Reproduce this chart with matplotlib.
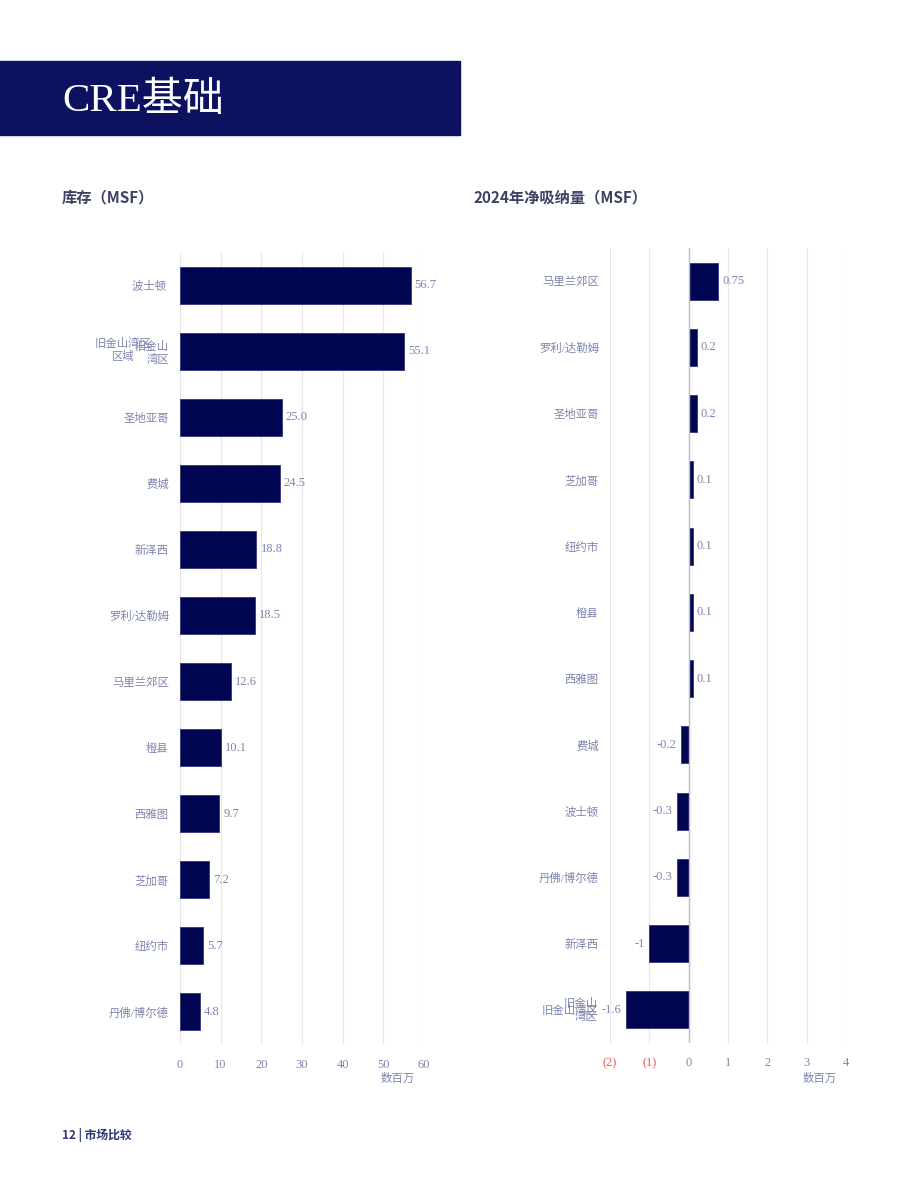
import matplotlib
matplotlib.use("Agg")
import matplotlib.pyplot as plt
from matplotlib.patches import Rectangle

# ---------------- data ----------------
inv_categories = ["波士顿 ", "旧金山\n湾区", "圣地亚哥", "费城", "新泽西", "罗利/达勒姆",
                  "马里兰郊区", "橙县", "西雅图", "芝加哥", "纽约市", "丹佛/博尔德"]
inv_values = [56.7, 55.1, 25.0, 24.5, 18.8, 18.5, 12.6, 10.1, 9.7, 7.2, 5.7, 4.8]
inv_ticks = [0, 10, 20, 30, 40, 50, 60]
inv_ticklabels = ["0", "10", "20", "30", "40", "50", "60"]
inv_ghost_label = "旧金山湾区\n区域"   # overlapping duplicate label in the source

abs_categories = ["马里兰郊区", "罗利/达勒姆", "圣地亚哥", "芝加哥", "纽约市", "橙县",
                  "西雅图", "费城", "波士顿", "丹佛/博尔德", "新泽西", "旧金山湾区"]
abs_values = [0.75, 0.2, 0.2, 0.1, 0.1, 0.1, 0.1, -0.2, -0.3, -0.3, -1.0, -1.6]
abs_ticks = [-2, -1, 0, 1, 2, 3, 4]
abs_ticklabels = ["(2)", "(1)", "0", "1", "2", "3", "4"]
abs_ghost_label = "旧金山\n湾区"     # overlapping duplicate label in the source

# ---------------- style ----------------
NAVY_BAND = "#0c1260"
BAR = "#010653"
BAR_EDGE = "#3b4080"
LABEL = "#7d84ad"
RED = "#ff4d4d"
GRID = "#e8e8ec"
SUB = "#3d4262"
SERIF = ["Liberation Serif", "Noto Sans CJK SC", "DejaVu Sans"]
SANS = ["Noto Sans CJK SC", "DejaVu Sans"]
CAT_SIZE = 8.2

W, H = 920, 1191
fig = plt.figure(figsize=(W / 100, H / 100), dpi=100)
fig.patch.set_facecolor("white")

def fx(px):
    return px / W

def fy(py):
    return 1 - py / H

# header band
fig.patches.append(Rectangle((0, fy(135)), fx(460), (135 - 61) / H,
                             transform=fig.transFigure, color=NAVY_BAND, zorder=0))
fig.text(fx(62), fy(101), "CRE基础", color="white", fontsize=29.5,
         family=SERIF, va="center", ha="left")

# subtitles
fig.text(fx(62), fy(197), "库存（MSF）", color=SUB, fontsize=11, fontweight="bold",
         family=SANS, va="center", ha="left")
fig.text(fx(474), fy(197), "2024年净吸纳量（MSF）", color=SUB, fontsize=11,
         fontweight="bold", family=SANS, va="center", ha="left")

# footer
fig.text(fx(62), fy(1135), "12 | 市场比较", color="#2f3576", fontsize=8.5,
         fontweight="bold", family=SANS, va="center", ha="left")


def style_axes(ax):
    for s in ax.spines.values():
        s.set_visible(False)
    ax.tick_params(axis="both", length=0, colors=LABEL)
    ax.tick_params(axis="x", labelsize=9, pad=10)
    ax.tick_params(axis="y", labelsize=CAT_SIZE, pad=8)
    ax.grid(axis="x", color=GRID, linewidth=0.9)
    ax.set_axisbelow(True)
    for lab in ax.get_xticklabels() + ax.get_yticklabels():
        lab.set_family(SERIF)


# ---------------- left chart: inventory ----------------
ax1 = fig.add_axes([fx(180), fy(1045), fx(424) - fx(180), (1045 - 252) / H])
y1 = list(range(len(inv_categories)))
ax1.barh(y1, inv_values, height=0.56, color=BAR, edgecolor=BAR_EDGE, linewidth=0.7)
ax1.set_xlim(0, 60)
ax1.set_ylim(len(inv_categories) - 0.5, -0.5)
ax1.set_xticks(inv_ticks)
ax1.set_xticklabels(inv_ticklabels)
ax1.set_yticks(y1)
ax1.set_yticklabels(inv_categories)
style_axes(ax1)
for yi, v in zip(y1, inv_values):
    ax1.annotate(f"{v:.1f}", (v, yi), xytext=(3, 0), textcoords="offset points",
                 va="center", ha="left", color=LABEL, fontsize=9, family=SERIF,
                 annotation_clip=False)
# overlapping ghost label (as in the source)
ax1.annotate(inv_ghost_label, (0, 1), xytext=(-40.7, 1), textcoords="offset points",
             va="center", ha="center", color=LABEL, fontsize=CAT_SIZE, family=SERIF,
             multialignment="center", annotation_clip=False)
fig.text(fx(398), fy(1078), "数百万", color=LABEL, fontsize=CAT_SIZE, family=SERIF,
         ha="center", va="center")

# ---------------- right chart: net absorption ----------------
ax2 = fig.add_axes([fx(610), fy(1043), fx(846) - fx(610), (1043 - 248) / H])
y2 = list(range(len(abs_categories)))
ax2.barh(y2, abs_values, height=0.56, color=BAR, edgecolor=BAR_EDGE, linewidth=0.7)
ax2.set_xlim(-2, 4)
ax2.set_ylim(len(abs_categories) - 0.5, -0.5)
ax2.set_xticks(abs_ticks)
ax2.set_xticklabels(abs_ticklabels)
ax2.set_yticks(y2)
ax2.set_yticklabels(abs_categories)
style_axes(ax2)
ax2.axvline(0, color="#bdbdc4", linewidth=1.0, zorder=1)
for t, lab in zip(abs_ticks, ax2.get_xticklabels()):
    if t < 0:
        lab.set_color(RED)
for yi, v in zip(y2, abs_values):
    if v >= 0:
        ax2.annotate(f"{v:g}", (v, yi), xytext=(3, 0), textcoords="offset points",
                     va="center", ha="left", color=LABEL, fontsize=9, family=SERIF,
                     annotation_clip=False)
    else:
        ax2.annotate(f"{v:g}", (v, yi), xytext=(-3, 0), textcoords="offset points",
                     va="center", ha="right", color=LABEL, fontsize=9, family=SERIF,
                     annotation_clip=False)
ax2.annotate(abs_ghost_label, (-2, len(abs_categories) - 1), xytext=(-9, 0),
             textcoords="offset points", va="center", ha="right", color=LABEL,
             fontsize=CAT_SIZE, family=SERIF, multialignment="right",
             annotation_clip=False)
fig.text(fx(820), fy(1078), "数百万", color=LABEL, fontsize=CAT_SIZE, family=SERIF,
         ha="center", va="center")

fig.savefig("out.png", dpi=100, facecolor="white")
